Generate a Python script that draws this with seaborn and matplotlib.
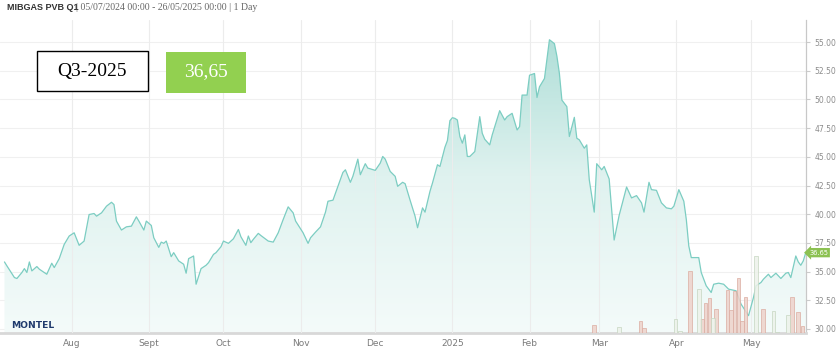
import numpy as np
import pandas as pd
import matplotlib
matplotlib.use("Agg")
import matplotlib.pyplot as plt
import matplotlib.dates as mdates
import matplotlib.transforms as mtransforms
from matplotlib.colors import LinearSegmentedColormap
from matplotlib.patches import Rectangle
import seaborn as sns

# price series: days after 2024-07-01 and settlement (EUR/MWh)
price_day = [4, 5, 8, 9, 11, 12, 13, 14, 15, 17, 18, 20, 21, 23, 24, 26, 28, 30, 32, 34,
             36, 38, 40, 41, 43, 45, 47, 48, 49, 51, 53, 55, 57, 58, 60, 61, 63, 64, 66, 67,
             68, 69, 71, 72, 74, 76, 77, 78, 80, 81, 83, 85, 86, 88, 89, 91, 92, 94, 96, 98,
             99, 101, 102, 103, 104, 106, 107, 110, 112, 114, 116, 118, 120, 121, 124, 126, 127, 129, 131, 133,
             134, 136, 140, 141, 143, 144, 146, 147, 149, 150, 153, 155, 156, 157, 159, 161, 162, 164, 165, 167,
             169, 170, 172, 173, 175, 176, 178, 179, 181, 182, 183, 184, 185, 186, 187, 188, 189, 190, 191, 193,
             195, 196, 197, 199, 200, 203, 205, 206, 208, 210, 211, 212, 214, 215, 217, 218, 219, 221, 223, 225,
             226, 227, 228, 230, 231, 233, 234, 235, 237, 238, 239, 241, 242, 244, 245, 247, 249, 251, 254, 256,
             258, 260, 261, 263, 264, 266, 268, 270, 272, 273, 275, 277, 278, 279, 280, 283, 284, 286, 288, 289,
             291, 293, 295, 298, 300, 303, 305, 306, 308, 309, 311, 312, 314, 316, 318, 319, 320, 322, 323, 324,
             325, 326]
price = [35.84, 35.49, 34.48, 34.40, 34.92, 35.26, 34.92, 35.84, 35.06, 35.44, 35.21, 34.92, 34.77, 35.73, 35.35, 36.13, 37.37, 38.10, 38.38, 37.29,
         37.66, 39.97, 40.06, 39.83, 40.12, 40.70, 41.04, 40.84, 39.40, 38.62, 38.90, 38.96, 39.77, 39.40, 38.62, 39.40, 39.02, 37.95, 37.11, 37.57,
         37.46, 37.66, 36.30, 36.65, 35.93, 35.64, 34.86, 36.13, 36.36, 33.90, 35.26, 35.55, 35.78, 36.50, 36.65, 37.17, 37.66, 37.46, 37.86, 38.67,
         38.04, 37.29, 38.10, 37.52, 37.81, 38.33, 38.15, 37.66, 37.57, 38.38, 39.54, 40.64, 40.12, 39.40, 38.38, 37.46, 37.95, 38.44, 38.90, 40.18,
         41.13, 41.22, 43.64, 43.87, 42.78, 43.30, 44.80, 43.44, 44.40, 44.02, 43.82, 44.45, 45.03, 44.80, 43.73, 43.30, 42.43, 42.78, 42.66, 41.22,
         39.83, 38.82, 40.55, 40.18, 42.00, 42.72, 44.31, 44.16, 45.84, 46.42, 48.15, 48.41, 48.35, 48.21, 46.77, 46.19, 46.91, 45.03, 45.03, 45.46,
         48.50, 47.05, 46.53, 46.04, 46.91, 49.02, 48.21, 48.50, 48.79, 47.34, 47.63, 50.38, 50.38, 52.11, 52.26, 50.17, 51.10, 51.82, 55.20, 54.86,
         53.76, 52.26, 49.94, 49.37, 46.77, 48.44, 46.62, 46.48, 45.75, 46.04, 43.01, 40.18, 44.40, 43.87, 44.16, 43.07, 37.75, 39.89, 42.37, 41.42,
         41.62, 40.99, 40.18, 42.78, 42.14, 42.08, 40.99, 40.55, 40.47, 40.70, 42.14, 41.13, 39.54, 37.23, 36.22, 36.22, 34.92, 33.76, 33.18, 33.90,
         33.99, 33.90, 33.47, 33.33, 32.17, 31.16, 32.75, 33.76, 34.05, 34.34, 34.77, 34.48, 34.86, 34.40, 34.86, 34.92, 34.48, 36.36, 35.84, 35.55,
         35.93, 36.65]

# traded volume bars: day offset, height, side (r = sell, g = buy)
bar_day = [240.8, 251.0, 259.6, 261.0, 273.7, 275.5, 279.5, 283.0, 284.4, 285.7, 287.3, 288.7, 290.0,
           294.5, 296.0, 297.4, 299.0, 300.4, 301.8, 306.0, 308.8, 313.0, 314.6, 318.9, 320.4, 323.0, 324.7]
bar_vol = [76, 60, 120, 50, 140, 20, 620, 440, 140, 300, 350, 150, 240,
           430, 230, 420, 550, 120, 360, 770, 240, 220, 15, 180, 360, 210, 70]
bar_side = ['r', 'g', 'r', 'r', 'g', 'g', 'r', 'g', 'r', 'r', 'r', 'g', 'r',
            'r', 'r', 'r', 'r', 'r', 'r', 'g', 'r', 'g', 'g', 'g', 'r', 'r', 'r']

month_starts = ['2024-08-01', '2024-09-01', '2024-10-01', '2024-11-01', '2024-12-01',
                '2025-01-01', '2025-02-01', '2025-03-01', '2025-04-01', '2025-05-01']
month_labels = ['Aug', 'Sept', 'Oct', 'Nov', 'Dec', '2025', 'Feb', 'Mar', 'Apr', 'May']
y_ticks = [30, 32.5, 35, 37.5, 40, 42.5, 45, 47.5, 50, 52.5, 55]

base = pd.Timestamp('2024-07-01')
df = pd.DataFrame({'date': base + pd.to_timedelta(price_day, unit='D'), 'price': price})
bars = pd.DataFrame({'date': base + pd.to_timedelta(bar_day, unit='D'), 'vol': bar_vol, 'side': bar_side})

sns.set_style('white')
fig = plt.figure(figsize=(8.4, 3.61), dpi=100)
ax = fig.add_axes([0.0, 28 / 361, 806 / 840, 313 / 361])
axv = ax.twinx()  # volume axis, hidden

ylo, yhi = 29.65, 56.92
x0 = base + pd.Timedelta(days=2.2)
x1 = base + pd.Timedelta(days=326.1)

sns.lineplot(data=df, x='date', y='price', ax=ax, color='#7ccdc2', linewidth=0.9, zorder=4)

# gradient area under the line
poly = ax.fill_between(df['date'], df['price'], ylo, facecolor='none', edgecolor='none')
cmap = LinearSegmentedColormap.from_list('fade', ['#f4fbfa', '#dff2ef', '#a9dcd5'])
grad = np.linspace(0, 1, 256).reshape(-1, 1)
im = ax.imshow(grad, extent=[mdates.date2num(x0), mdates.date2num(x1), ylo, yhi],
               origin='lower', aspect='auto', cmap=cmap, zorder=2)
im.set_clip_path(poly.get_paths()[0], transform=ax.transData)

ax.set_xlim(x0, x1)
ax.set_ylim(ylo, yhi)

# grid
for y in y_ticks:
    ax.axhline(y, color='#f0f0f0', linewidth=0.8, zorder=1)
for m in month_starts:
    ax.axvline(pd.Timestamp(m), color='#ececec', linewidth=0.8, zorder=3)

ax.set_xticks([pd.Timestamp(m) for m in month_starts])
ax.set_xticklabels(month_labels)
ax.tick_params(axis='x', labelsize=6.5, colors='#cccccc', labelcolor='#7a7a7a', length=3, width=0.8, pad=1.5)
ax.set_yticks(y_ticks)
ax.set_yticklabels([f'{v:.2f}' for v in y_ticks])
ax.yaxis.tick_right()
ax.tick_params(axis='y', which='both', left=False, labelleft=False, right=True, labelright=True,
               labelsize=5.5, colors='#cccccc', labelcolor='#8c8c8c', length=3, width=0.8, pad=3)
ax.set_xlabel('')
ax.set_ylabel('')
for s in ['top', 'left']:
    ax.spines[s].set_visible(False)
ax.spines['right'].set_color('#c8c8c8')
ax.spines['right'].set_linewidth(0.9)
ax.spines['bottom'].set_color('#d8d8d8')
ax.spines['bottom'].set_linewidth(2)

# "Jul" label clipped at the left edge
ax.text(pd.Timestamp('2024-07-01'), -0.04, 'Jul', transform=ax.get_xaxis_transform(),
        ha='center', va='top', fontsize=6.5, color='#7a7a7a', clip_on=False)

# volume bars
axv.set_ylim(0, 3130)
for side, fc, ec in [('r', '#eed2cb', '#dcaea2'), ('g', '#edf2ea', '#c6d6c1')]:
    sub = bars[bars['side'] == side]
    axv.bar(sub['date'], sub['vol'], width=1.45, color=fc, edgecolor=ec, linewidth=0.6, alpha=0.85, zorder=2)
axv.set_yticks([])
axv.tick_params(axis='y', right=False, labelright=False, left=False, labelleft=False)
for s in axv.spines.values():
    s.set_visible(False)
axv.set_xlim(x0, x1)

# last price tag
ax.text(1.004, 36.65, '36.65', transform=mtransforms.blended_transform_factory(ax.transAxes, ax.transData),
        ha='left', va='center', fontsize=4.8, color='white', clip_on=False, zorder=10,
        bbox=dict(boxstyle='larrow,pad=0.25', facecolor='#8cc152', edgecolor='none'))

# header
fig.text(7 / 840, 1 - 8 / 361, 'MIBGAS PVB Q1', fontsize=6.5, fontweight='bold',
         color='#333333', ha='left', va='center', family='Liberation Sans')
fig.text(76 / 840, 1 - 8 / 361, '| 05/07/2024 00:00 - 26/05/2025 00:00 | 1 Day', fontsize=7,
         color='#666666', ha='left', va='center', family='Liberation Serif')

# contract / price boxes
fig.patches.append(Rectangle((37 / 840, 1 - 91 / 361), 111 / 840, 40 / 361, transform=fig.transFigure,
                             facecolor='white', edgecolor='black', linewidth=1.0, zorder=5))
fig.text(92.5 / 840, 1 - 71.5 / 361, 'Q3-2025', fontsize=14, family='Liberation Serif',
         color='black', ha='center', va='center', zorder=6)
fig.patches.append(Rectangle((166 / 840, 1 - 93 / 361), 80 / 840, 41 / 361, transform=fig.transFigure,
                             facecolor='#92d050', edgecolor='none', zorder=5))
fig.text(206 / 840, 1 - 72 / 361, '36,65', fontsize=14, family='Liberation Serif',
         color='white', ha='center', va='center', zorder=6)

# logo
fig.text(11 / 840, 1 - 326 / 361, 'MONTEL', fontsize=6.6, fontweight='heavy',
         color='#1f3a6d', ha='left', va='center', family='DejaVu Sans')

fig.savefig('out.png', dpi=100)
